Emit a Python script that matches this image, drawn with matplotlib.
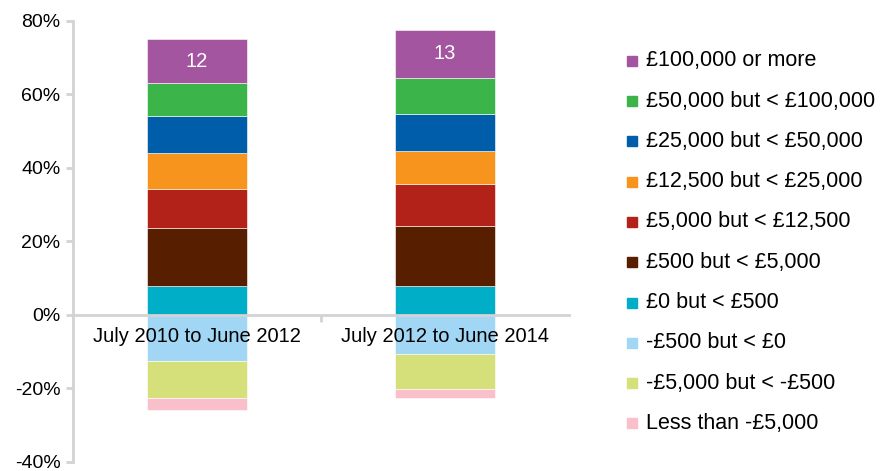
import matplotlib
matplotlib.use("Agg")
import matplotlib.pyplot as plt
from matplotlib.patches import Rectangle
import numpy as np

plt.rcParams['font.family'] = ['Liberation Sans', 'DejaVu Sans']

periods = ['July 2010 to June 2012', 'July 2012 to June 2014']

# positive bands, bottom to top
pos_labels = ['£0 but < £500', '£500 but < £5,000', '£5,000 but < £12,500',
              '£12,500 but < £25,000', '£25,000 but < £50,000',
              '£50,000 but < £100,000', '£100,000 or more']
pos_colors = ['#00AEC7', '#581E00', '#B22218', '#F7941D', '#005DAA',
              '#3BB54A', '#A355A0']
pos_values = [
    [7.9, 7.9],
    [15.7, 16.4],
    [10.7, 11.4],
    [9.6, 8.9],
    [10.2, 10.1],
    [8.9, 9.6],
    [12.0, 13.3],
]

# negative bands, from zero downward
neg_labels = ['-£500 but < £0', '-£5,000 but < -£500', 'Less than -£5,000']
neg_colors = ['#A1D7F5', '#D5E07A', '#F9C0CB']
neg_values = [
    [12.5, 10.6],
    [10.1, 9.6],
    [3.2, 2.4],
]

top_labels = ['12', '13']

fig = plt.figure(figsize=(8.84, 4.71), dpi=100)
ax = fig.add_axes([73 / 884, 9 / 471, 496 / 884, 441.3 / 471])

x = np.arange(len(periods))
w = 0.4
bottom = np.zeros(len(periods))
for vals, c in zip(pos_values, pos_colors):
    ax.bar(x, vals, w, bottom=bottom, color=c, edgecolor='white', linewidth=0.4)
    bottom += np.array(vals)
top_bottom = bottom - np.array(pos_values[-1])
for i in range(len(periods)):
    ax.text(x[i], top_bottom[i] + pos_values[-1][i] / 2, top_labels[i],
            ha='center', va='center', color='white', fontsize=14.5)

bottom = np.zeros(len(periods))
for vals, c in zip(neg_values, neg_colors):
    ax.bar(x, -np.array(vals), w, bottom=bottom, color=c, edgecolor='white', linewidth=0.4)
    bottom -= np.array(vals)

ax.set_xlim(-0.5, 1.5)
ax.set_ylim(-40, 80)
ax.set_yticks(np.arange(-40, 81, 20))
ax.set_yticklabels([f'{v}%' for v in range(-40, 81, 20)], fontsize=14)

ax.spines['top'].set_visible(False)
ax.spines['right'].set_visible(False)
ax.spines['bottom'].set_position(('data', 0))
for s in ['left', 'bottom']:
    ax.spines[s].set_color('#D3D3D3')
    ax.spines[s].set_linewidth(2)

ax.set_xticks(x)
ax.set_xticklabels(periods, fontsize=14.5)
ax.set_xticks([0.5], minor=True)
ax.tick_params(axis='x', which='major', length=0, pad=9)
ax.tick_params(axis='x', which='minor', length=5, width=2, color='#D3D3D3')
ax.tick_params(axis='y', length=5, width=2, color='#D3D3D3', pad=4)

# legend, top to bottom
leg_labels = pos_labels[::-1] + neg_labels
leg_colors = pos_colors[::-1] + neg_colors
for i, (lab, c) in enumerate(zip(leg_labels, leg_colors)):
    yc = 60.7 + i * 40.3
    fig.add_artist(Rectangle((627 / 884, 1 - (yc + 5) / 471), 10 / 884, 10 / 471,
                             transform=fig.transFigure, color=c))
    fig.text(646 / 884, 1 - yc / 471, lab, ha='left', va='center', fontsize=15.5)

fig.savefig('out.png', dpi=100)
